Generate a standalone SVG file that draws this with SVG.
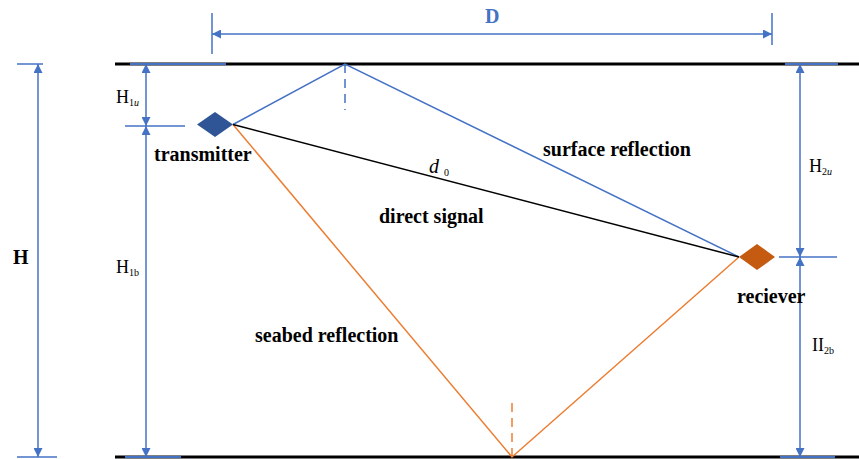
<svg xmlns="http://www.w3.org/2000/svg" width="859" height="459" viewBox="0 0 859 459">
<defs>
<marker id="arr" viewBox="0 0 10 10" refX="10" refY="5" markerWidth="9" markerHeight="9" markerUnits="userSpaceOnUse" orient="auto-start-reverse">
<path d="M0,0 L10,5 L0,10 Z" fill="#4472C4"/>
</marker>
<style>
.dim{stroke:#4472C4;stroke-width:1.5;fill:none}
.dimA{stroke:#4472C4;stroke-width:1.5;fill:none;marker-start:url(#arr);marker-end:url(#arr)}
.bnd{stroke:#000;stroke-width:3}
.ov{stroke:#4472C4;stroke-width:2}
.lbl{font-family:"Liberation Serif","Times New Roman",serif;font-weight:bold;font-size:20px;fill:#000}
.sym{font-family:"Liberation Serif","Times New Roman",serif;font-size:18px;fill:#000}
.sub{font-size:10px}
.blue{stroke:#4472C4;stroke-width:1.5;fill:none}
.org{stroke:#ED7D31;stroke-width:1.5;fill:none}
.blk{stroke:#000;stroke-width:1.5;fill:none}
</style>
</defs>
<rect width="859" height="459" fill="#fff"/>
<g id="boundaries">
<line class="bnd" x1="115" y1="64" x2="859" y2="64"/>
<line class="bnd" x1="115" y1="457" x2="859" y2="457"/>
<line class="ov" x1="130" y1="64" x2="226" y2="64"/>
<line class="ov" x1="785" y1="64" x2="838" y2="64"/>
<line class="ov" x1="125" y1="457" x2="181" y2="457"/>
<line class="ov" x1="780" y1="457" x2="835" y2="457"/>
</g>
<g id="connectors">
<polyline class="blue" points="233,124.5 345,64 739,257"/>
<line class="blue" x1="345" y1="64" x2="345" y2="110" stroke-dasharray="9,6"/>
<polyline class="org" points="233,124.5 512,457 739,257"/>
<line class="org" x1="512" y1="457" x2="512" y2="401" stroke-dasharray="9,6"/>
<line class="blk" x1="233" y1="124.5" x2="739" y2="257"/>
</g>
<g id="dimensions">
<line class="dim" x1="17" y1="64" x2="43" y2="64"/>
<line class="dim" x1="17" y1="457" x2="57" y2="457"/>
<line class="dimA" x1="38" y1="64" x2="38" y2="457"/>
<line class="dim" x1="125" y1="126" x2="185" y2="126"/>
<line class="dimA" x1="146" y1="64" x2="146" y2="126"/>
<line class="dimA" x1="146" y1="126" x2="146" y2="457"/>
<line class="dim" x1="779" y1="257" x2="837" y2="257"/>
<line class="dimA" x1="800" y1="64" x2="800" y2="257"/>
<line class="dimA" x1="800" y1="257" x2="800" y2="457"/>
<line class="dim" x1="212" y1="13" x2="212" y2="54"/>
<line class="dim" x1="772" y1="13" x2="772" y2="45"/>
<line class="dimA" x1="212" y1="34" x2="772" y2="34"/>
</g>
<g id="transmitter">
<polygon points="197,124.5 215,112 233,124.5 215,137" fill="#2F5597"/>
<text class="lbl" x="154" y="161">transmitter</text>
</g>
<g id="receiver">
<polygon points="739,257 757,244 775,257 757,270" fill="#C55A11"/>
<text class="lbl" x="737" y="303">reciever</text>
</g>
<g id="labels">
<text class="lbl" x="485" y="23" style="fill:#4472C4">D</text>
<text class="lbl" x="13" y="264">H</text>
<text class="sym" x="116" y="103">H<tspan class="sub" dy="3">1<tspan font-style="italic">u</tspan></tspan></text>
<text class="sym" x="116" y="273">H<tspan class="sub" dy="3">1b</tspan></text>
<text class="sym" x="809" y="172">H<tspan class="sub" dy="3">2<tspan font-style="italic">u</tspan></tspan></text>
<text class="sym" x="812" y="351">II<tspan class="sub" dy="3">2b</tspan></text>
<text class="sym" x="429" y="173" font-style="italic" style="font-size:20px">d<tspan class="sub" font-style="normal" dx="5" dy="3">0</tspan></text>
<text class="lbl" x="543" y="156">surface reflection</text>
<text class="lbl" x="379" y="223">direct signal</text>
<text class="lbl" x="255" y="342">seabed reflection</text>
</g>
</svg>
